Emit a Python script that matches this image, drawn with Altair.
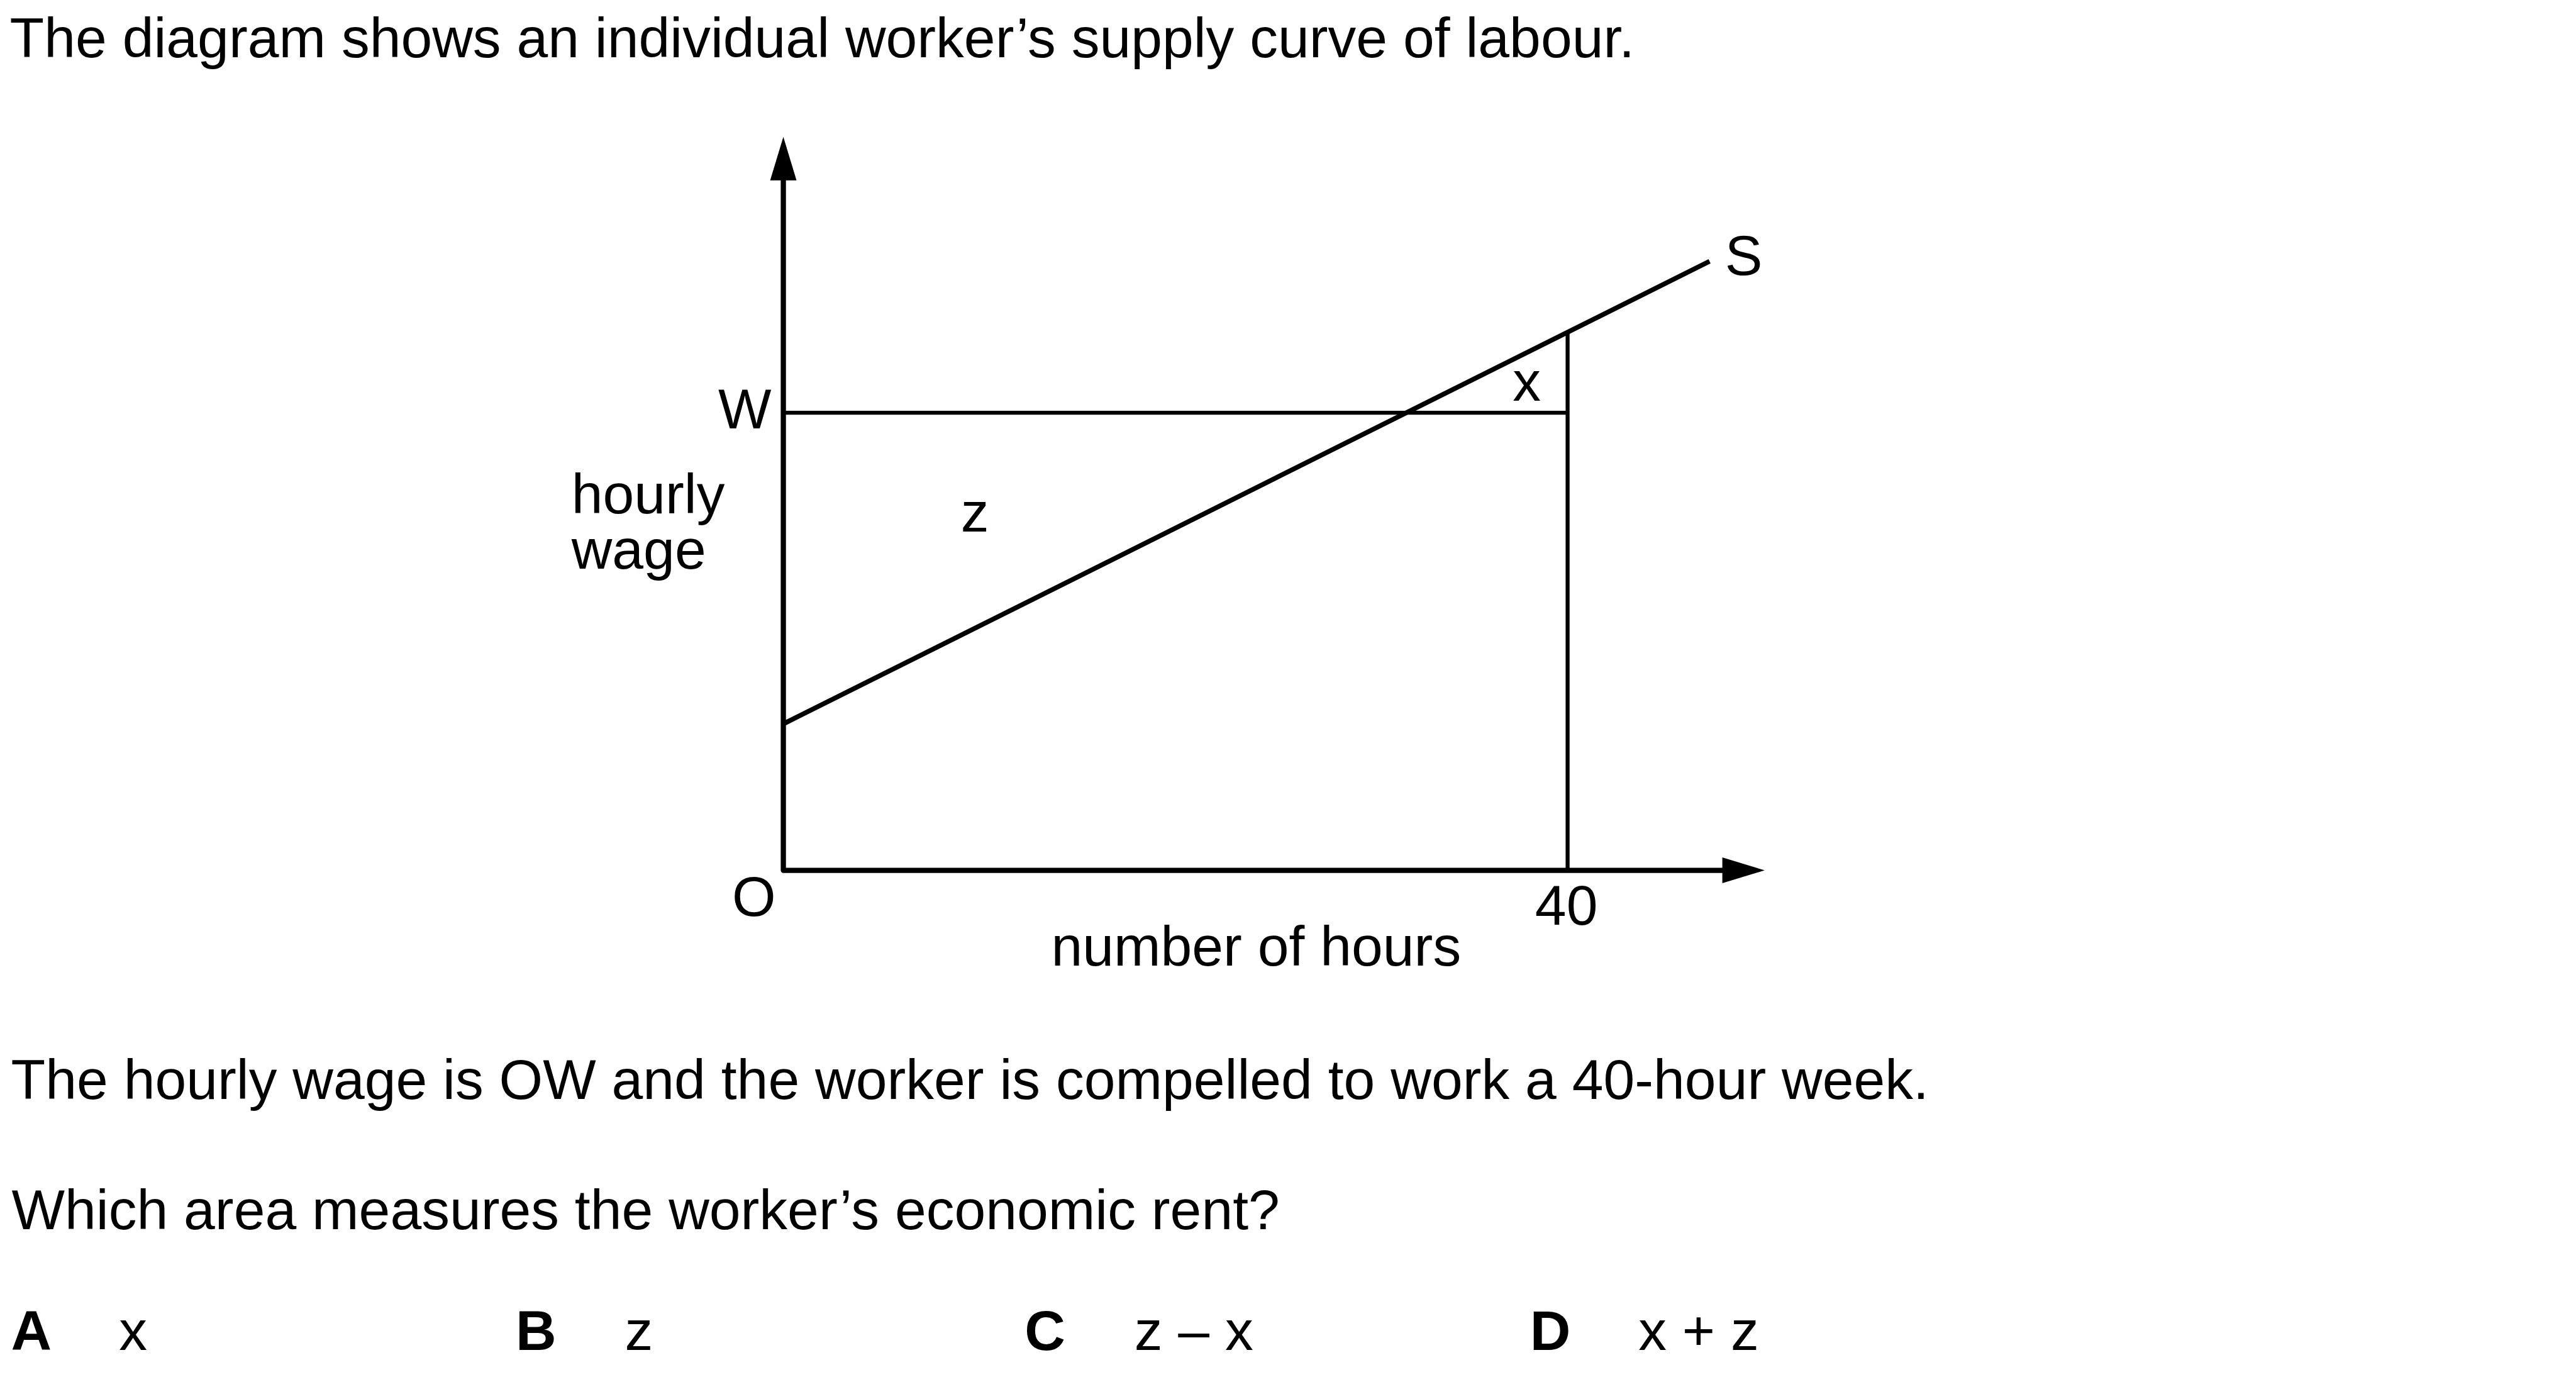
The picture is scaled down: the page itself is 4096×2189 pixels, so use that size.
import altair as alt
import pandas as pd

# ---------------- data ----------------
question_lines = [
    "The diagram shows an individual worker\u2019s supply curve of labour.",
    "The hourly wage is OW and the worker is compelled to work a 40-hour week.",
    "Which area measures the worker\u2019s economic rent?",
]
option_letters = ["A", "B", "C", "D"]
option_texts = ["x", "z", "z \u2013 x", "x + z"]
ylabel_lines = ["hourly", "wage"]

hours_week = 40.0          # the compelled 40-hour week
wage_W = 10.0              # hourly wage OW (arbitrary units)
supply_hours = [0.0, 47.24]
supply_wage = [3.20, 13.31]
supply_at_week = 11.76     # where the 40-hour line meets S
y_axis_top = 16.03         # tip of the wage-axis arrow
x_axis_end = 50.05         # tip of the hours-axis arrow
y_axis_line_end = 15.3
x_axis_line_end = 48.2

area_labels = ["z", "x", "S"]
area_hours = [9.77, 37.92, 48.98]
area_wage = [7.41, 10.27, 13.02]

# ---------------- layout (reference px -> chart px) ----------------
S = 0.975
def cx(r):
    return r * S - 8
def cy(r):
    return r * S - 8

ORIG_X, ORIG_Y = 1277.5, 1419.0   # reference px of origin O
PX_H, PX_W = 31.975, 74.6         # reference px per hour / per wage unit
W_C, H_C = 4078, 2164

h0 = ((0 + 8) / S - ORIG_X) / PX_H
h1 = ((W_C + 8) / S - ORIG_X) / PX_H
w_top = (ORIG_Y - (0 + 8) / S) / PX_W
w_bot = (ORIG_Y - (H_C + 8) / S) / PX_W

xs = alt.Scale(domain=[h0, h1], nice=False, zero=False)
ys = alt.Scale(domain=[w_bot, w_top], nice=False, zero=False)
X = lambda f: alt.X(f, type="quantitative", scale=xs, axis=None)
Y = lambda f: alt.Y(f, type="quantitative", scale=ys, axis=None)

FS = 89.5
FONT = "Liberation Sans"

# ---------------- tables ----------------
axes_df = pd.DataFrame({
    "o": [0, 1, 2],
    "h": [0.0, 0.0, x_axis_line_end],
    "w": [y_axis_line_end, 0.0, 0.0],
})
wline_df = pd.DataFrame({"o": [0, 1], "h": [0.0, hours_week], "w": [wage_W, wage_W]})
vline_df = pd.DataFrame({"o": [0, 1], "h": [hours_week, hours_week], "w": [0.0, supply_at_week]})
supply_df = pd.DataFrame({"o": [0, 1], "h": supply_hours, "w": supply_wage})
yarrow_df = pd.DataFrame({"h": [0.0], "w": [y_axis_top]})
xarrow_df = pd.DataFrame({"h": [x_axis_end], "w": [0.0]})
labels_df = pd.DataFrame({"t": area_labels, "h": area_hours, "w": area_wage})
wpt_df = pd.DataFrame({"t": ["W"], "h": [0.0], "w": [wage_W]})
ylab_df = pd.DataFrame({"h": [0.0], "w": [wage_W]})
o_df = pd.DataFrame({"t": ["O"], "h": [0.0], "w": [0.0]})
forty_df = pd.DataFrame({"t": ["40"], "h": [hours_week], "w": [0.0]})
xtitle_df = pd.DataFrame({"t": ["number of hours"], "h": [0.0], "w": [0.0]})

layers = []

layers.append(alt.Chart(axes_df).mark_line(
    color="black", strokeWidth=8.3, strokeJoin="round", strokeCap="butt"
).encode(x=X("h"), y=Y("w"), order="o:Q"))

for df, sw in [(wline_df, 6.3), (vline_df, 6.3), (supply_df, 7.6)]:
    layers.append(alt.Chart(df).mark_line(
        color="black", strokeWidth=sw, strokeCap="butt"
    ).encode(x=X("h"), y=Y("w"), order="o:Q"))

layers.append(alt.Chart(yarrow_df).mark_point(
    shape="M0,0L-0.606,2L0.606,2Z", size=4789, filled=True,
    color="black", opacity=1, strokeWidth=0
).encode(x=X("h"), y=Y("w")))
layers.append(alt.Chart(xarrow_df).mark_point(
    shape="M0,0L-1.945,-0.592L-1.945,0.592Z", size=4789, filled=True,
    color="black", opacity=1, strokeWidth=0
).encode(x=X("h"), y=Y("w")))

def label(df, align, dx, dy):
    return alt.Chart(df).mark_text(
        font=FONT, fontSize=FS, color="black", align=align,
        baseline="alphabetic", dx=dx, dy=dy
    ).encode(x=X("h"), y=Y("w"), text="t:N")

layers.append(label(labels_df, "center", 0, 0))
layers.append(label(wpt_df, "right", (1258 - ORIG_X) * S, (698 - 673) * S))
layers.append(alt.Chart(ylab_df).mark_text(
    text=ylabel_lines, font=FONT, fontSize=FS, color="black", align="left",
    baseline="alphabetic", lineHeight=90 * S,
    dx=(932 - ORIG_X) * S, dy=(837 - 673) * S
).encode(x=X("h"), y=Y("w")))
layers.append(label(o_df, "center", (1229.5 - ORIG_X) * S, (1493 - ORIG_Y) * S))
layers.append(label(forty_df, "center", (2554.5 - 2556.5) * S, (1508 - ORIG_Y) * S))
layers.append(label(xtitle_df, "center", (2048.5 - ORIG_X) * S, (1574 - ORIG_Y) * S))

# question text
q_pos = [(16, 93), (18, 1792), (19, 2004)]
for line, (rx, ry) in zip(question_lines, q_pos):
    layers.append(alt.Chart(pd.DataFrame({"t": [line]})).mark_text(
        font=FONT, fontSize=FS, color="black", align="left", baseline="alphabetic"
    ).encode(x=alt.value(cx(rx)), y=alt.value(cy(ry)), text="t:N"))

letter_x = [18, 841, 1671, 2495]
text_x = [194, 1019, 1850, 2672]
opt_y = 2200.7
for L, T, lx, tx in zip(option_letters, option_texts, letter_x, text_x):
    layers.append(alt.Chart(pd.DataFrame({"t": [L]})).mark_text(
        font=FONT, fontSize=FS, fontWeight="bold", color="black",
        align="left", baseline="alphabetic"
    ).encode(x=alt.value(cx(lx)), y=alt.value(cy(opt_y)), text="t:N"))
    layers.append(alt.Chart(pd.DataFrame({"t": [T]})).mark_text(
        font=FONT, fontSize=FS, color="black", align="left", baseline="alphabetic"
    ).encode(x=alt.value(cx(tx)), y=alt.value(cy(opt_y)), text="t:N"))

chart = alt.layer(*layers).properties(
    width=W_C, height=H_C, padding=0,
    autosize=alt.AutoSizeParams(type="none"),
    background="white",
).configure_view(stroke=None)

chart.save("out.html", embed_options={"renderer": "svg", "actions": False})
